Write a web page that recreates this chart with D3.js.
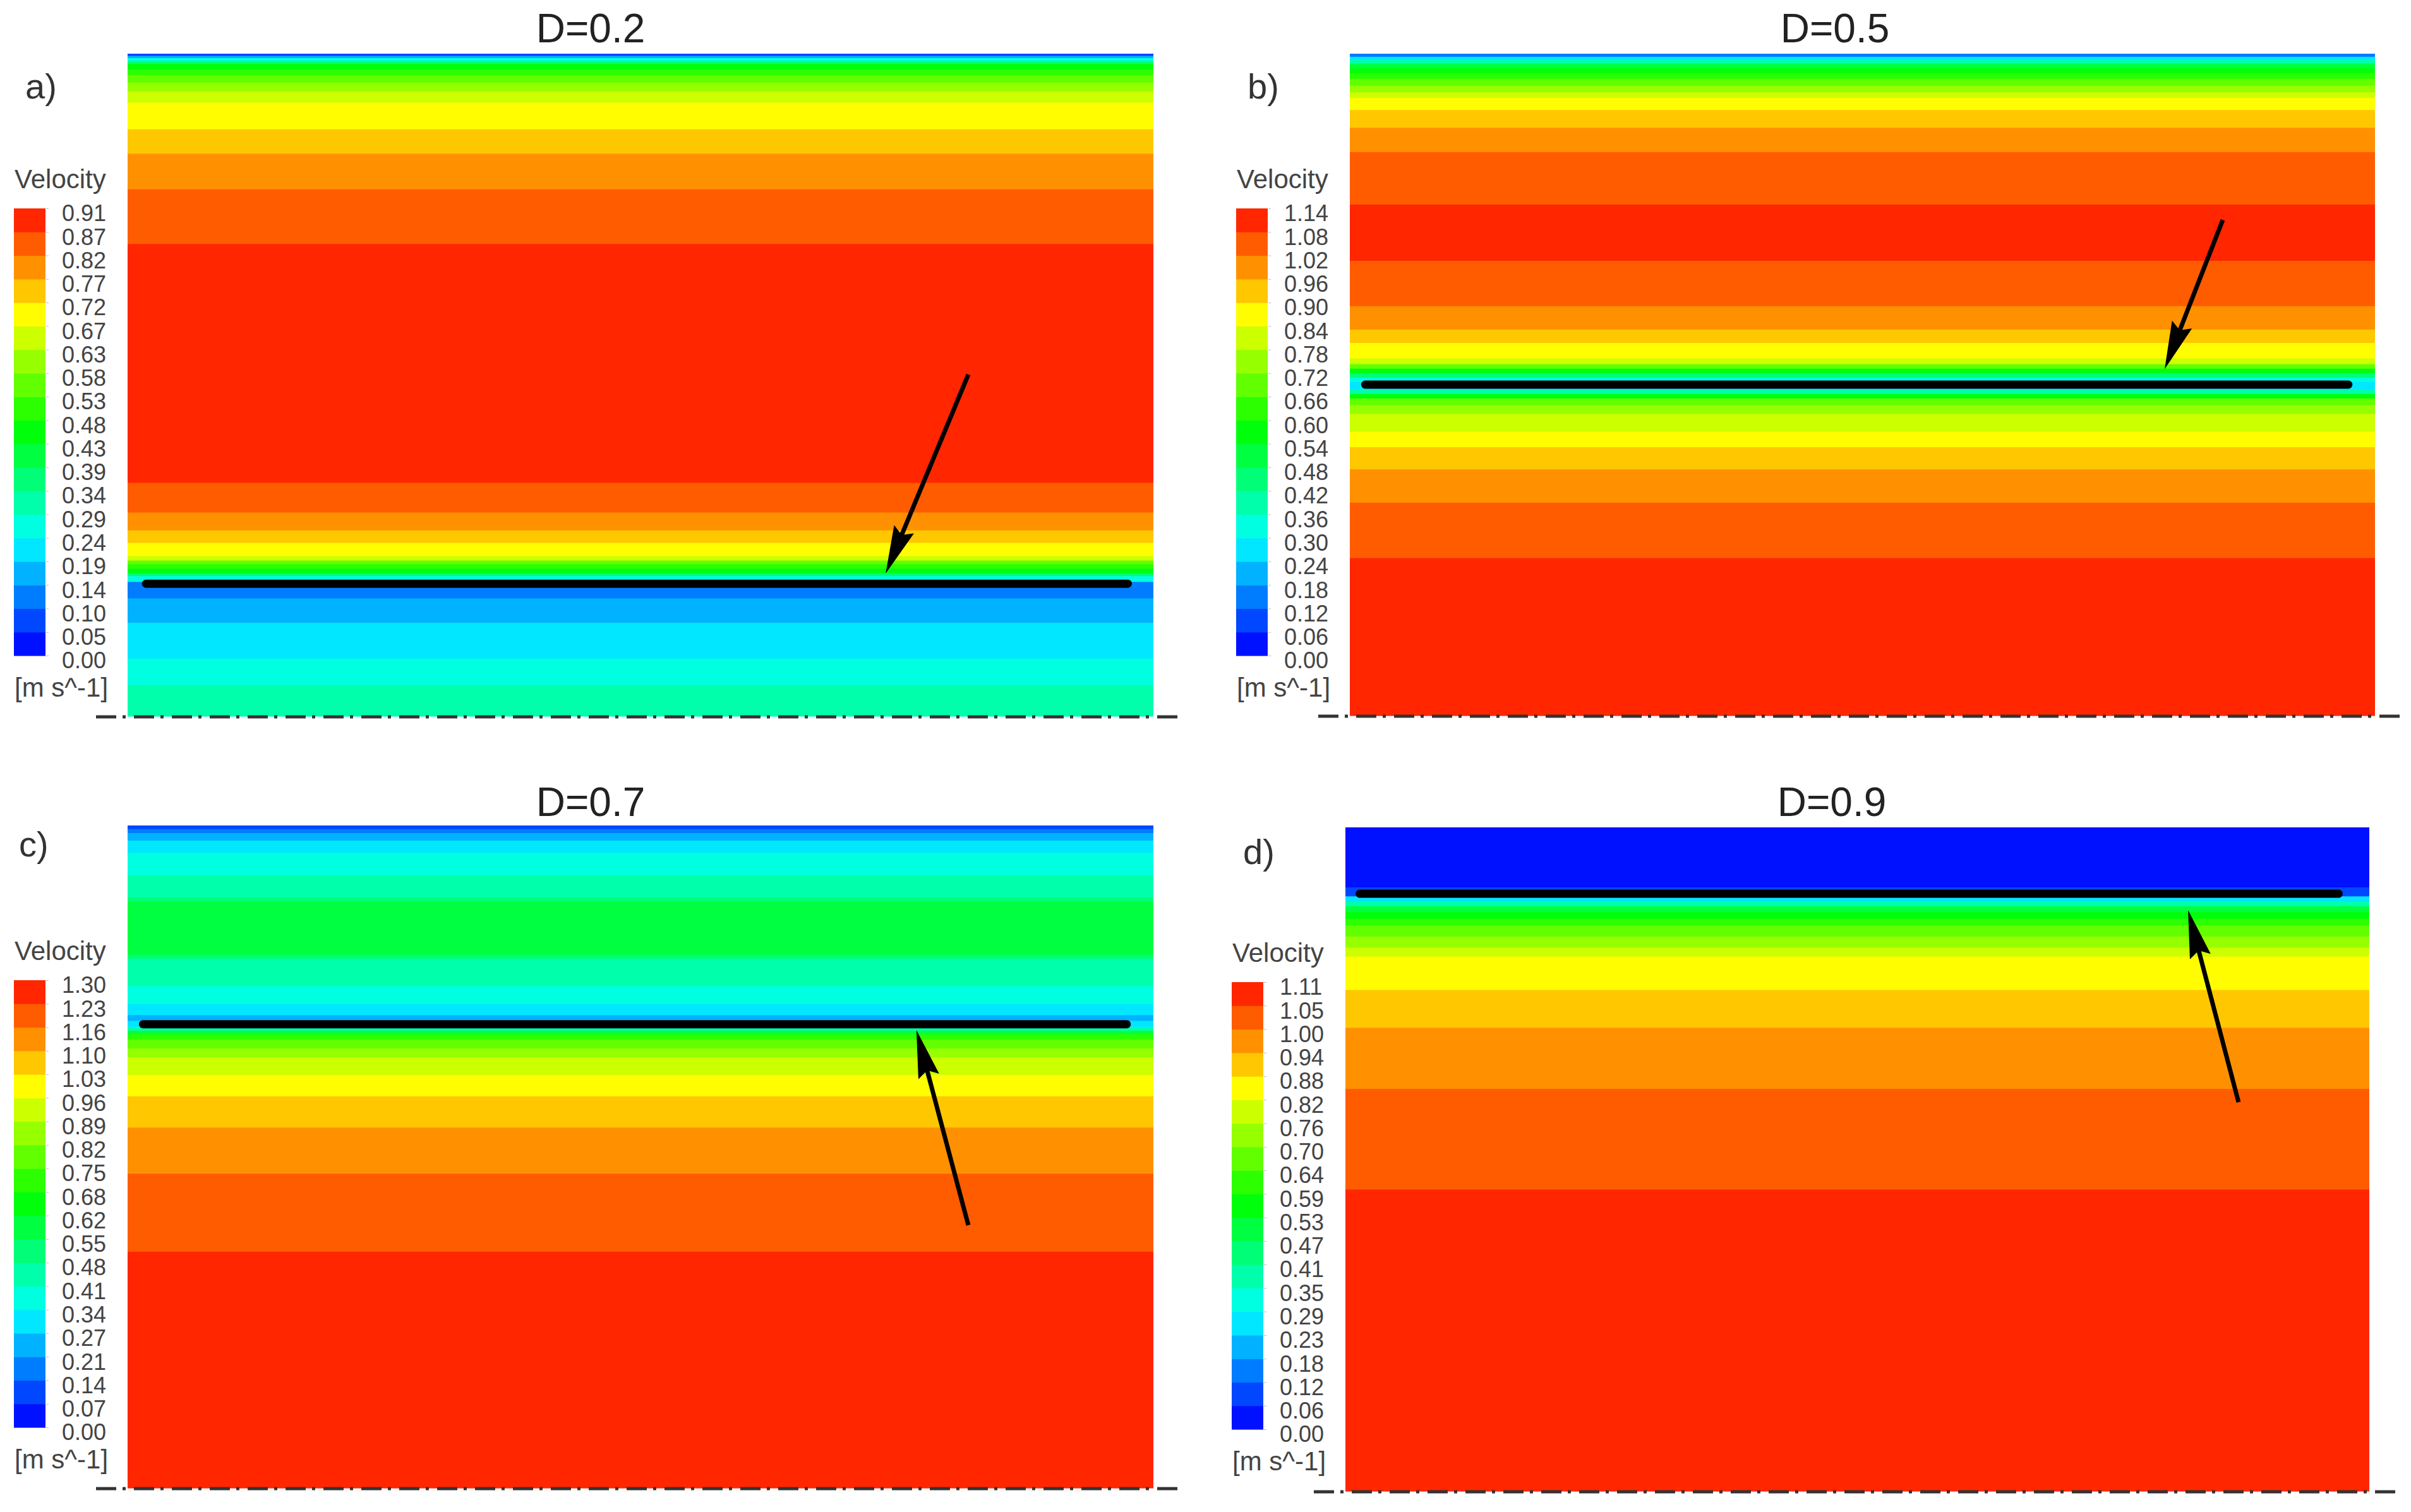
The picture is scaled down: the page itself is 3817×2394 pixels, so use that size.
<!DOCTYPE html>
<html>
<head>
<meta charset="utf-8">
<script src="https://cdn.jsdelivr.net/npm/d3@7"></script>
<style>
  body { margin: 0; background: #fff; }
  text { font-family: "Liberation Sans", Arial, sans-serif; }
</style>
</head>
<body>
<svg id="chart" width="3817" height="2394"></svg>
<script>
// panel titles and plate positions (plate sits at y = D)
var titles = ['D=0.2', 'D=0.5', 'D=0.7', 'D=0.9'];
var letters = ['a)', 'b)', 'c)', 'd)'];
var plateD = [0.2, 0.5, 0.7, 0.9];
var plateStart = [0.018, 0.015, 0.015, 0.014];
var plateEnd = [0.975, 0.974, 0.974, 0.970];

// legend tick labels, top to bottom
var labelsA = ['0.91','0.87','0.82','0.77','0.72','0.67','0.63','0.58','0.53','0.48','0.43','0.39','0.34','0.29','0.24','0.19','0.14','0.10','0.05','0.00'];
var labelsB = ['1.14','1.08','1.02','0.96','0.90','0.84','0.78','0.72','0.66','0.60','0.54','0.48','0.42','0.36','0.30','0.24','0.18','0.12','0.06','0.00'];
var labelsC = ['1.30','1.23','1.16','1.10','1.03','0.96','0.89','0.82','0.75','0.68','0.62','0.55','0.48','0.41','0.34','0.27','0.21','0.14','0.07','0.00'];
var labelsD = ['1.11','1.05','1.00','0.94','0.88','0.82','0.76','0.70','0.64','0.59','0.53','0.47','0.41','0.35','0.29','0.23','0.18','0.12','0.06','0.00'];

// contour band edges (height over the axis, wall = 1), top to bottom, and the colour level of each band
var edgesA = [1.000, 0.9966, 0.9933, 0.9893, 0.9846, 0.9765, 0.9678, 0.9564, 0.9430, 0.9262, 0.8859, 0.8490, 0.7953, 0.7128, 0.3523, 0.3074, 0.2805, 0.2617, 0.2416, 0.2349, 0.2295, 0.2228, 0.2161, 0.2114, 0.2027, 0.1779, 0.1409, 0.0872, 0.0470, 0];
var levelsA = [1, 3, 5, 7, 9, 10, 11, 12, 13, 14, 15, 16, 17, 18, 17, 16, 15, 14, 13, 11, 10, 9, 7, 5, 2, 3, 4, 5, 6];

var edgesB = [1.0, 0.9953, 0.9906, 0.9853, 0.9786, 0.9705, 0.9618, 0.9517, 0.9417, 0.9330, 0.9149, 0.8881, 0.8512, 0.7721, 0.6870, 0.6186, 0.5831, 0.5630, 0.5395, 0.5308, 0.5241, 0.5174, 0.5107, 0.5040, 0.4926, 0.4859, 0.4792, 0.4692, 0.4558, 0.4290, 0.4055, 0.3720, 0.3217, 0.2379, 0];
var levelsB = [2, 4, 6, 8, 9, 10, 11, 12, 13, 14, 15, 16, 17, 18, 17, 16, 15, 14, 13, 11, 9, 7, 5, 4, 6, 9, 11, 12, 13, 14, 15, 16, 17, 18];

var edgesC = [1, 0.9946, 0.9886, 0.9772, 0.9584, 0.9249, 0.8914, 0.8847, 0.8043, 0.7989, 0.7574, 0.7306, 0.7138, 0.7051, 0.6957, 0.6903, 0.6850, 0.6769, 0.6635, 0.6501, 0.6233, 0.5912, 0.5442, 0.4745, 0.3566, 0];
var levelsC = [1, 2, 3, 4, 5, 6, 7, 8, 7, 6, 5, 4, 3, 4, 6, 8, 10, 11, 12, 13, 14, 15, 16, 17, 18];

var edgesD = [1, 0.9094, 0.8960, 0.8879, 0.8812, 0.8725, 0.8624, 0.8523, 0.8356, 0.8188, 0.8054, 0.7550, 0.6980, 0.6060, 0.4544, 0];
var levelsD = [0, 1, 4, 6, 8, 9, 10, 11, 12, 13, 14, 15, 16, 17, 18];

// arrows: [x tail, y tail, x tip, y tip] in panel units
var arrowA = [0.8196, 0.5157, 0.7390, 0.2154];
var arrowB = [0.8515, 0.7488, 0.7948, 0.5234];
var arrowC = [0.8196, 0.3966, 0.7690, 0.6911];
var arrowD = [0.8723, 0.5860, 0.8230, 0.8753];

var panels = [
  {left: 202, right: 1826, top: 85, bottom: 1134, tx: 935, ty: 67, lx: 40, ly: 156,
   edges: edgesA, levels: levelsA, labels: labelsA, arrow: arrowA},
  {left: 2137, right: 3760, top: 85, bottom: 1133, tx: 2905, ty: 67, lx: 1975, ly: 156,
   edges: edgesB, levels: levelsB, labels: labelsB, arrow: arrowB},
  {left: 202, right: 1826, top: 1307, bottom: 2356, tx: 935, ty: 1292, lx: 30, ly: 1356,
   edges: edgesC, levels: levelsC, labels: labelsC, arrow: arrowC},
  {left: 2130, right: 3751, top: 1310, bottom: 2361, tx: 2900, ty: 1292, lx: 1968, ly: 1368,
   edges: edgesD, levels: levelsD, labels: labelsD, arrow: arrowD}
];

// CFX style rainbow, 19 levels, blue -> red
var hue = d3.scaleLinear().domain([0, 18]).range([236, 9]);
function levelColor(l) { return d3.hsl(hue(l), 1, 0.5).toString(); }

var svg = d3.select('#chart');

svg.append('defs').append('marker')
  .attr('id', 'head')
  .attr('markerUnits', 'userSpaceOnUse')
  .attr('viewBox', '0 -17 76 34')
  .attr('refX', 76).attr('refY', 0)
  .attr('markerWidth', 76).attr('markerHeight', 34)
  .attr('orient', 'auto')
  .append('path')
  .attr('d', 'M0,-17L76,0L0,17L10,0Z')
  .attr('fill', '#000');

panels.forEach(function (p, k) {
  var g = svg.append('g');
  var x = d3.scaleLinear().domain([0, 1]).range([p.left, p.right]);
  var y = d3.scaleLinear().domain([0, 1]).range([p.bottom, p.top]);

  // contour bands
  var bands = p.levels.map(function (l, i) { return {y0: p.edges[i], y1: p.edges[i + 1], level: l}; });
  g.selectAll('rect.band').data(bands).enter().append('rect')
    .attr('class', 'band')
    .attr('x', x(0))
    .attr('width', x(1) - x(0))
    .attr('y', function (d) { return y(d.y0); })
    .attr('height', function (d) { return y(d.y1) - y(d.y0) + 0.6; })
    .attr('fill', function (d) { return levelColor(d.level); });

  // plate
  g.append('line')
    .attr('x1', x(plateStart[k])).attr('x2', x(plateEnd[k]))
    .attr('y1', y(plateD[k])).attr('y2', y(plateD[k]))
    .attr('stroke', '#000').attr('stroke-width', 13).attr('stroke-linecap', 'round');

  // symmetry axis
  g.append('line')
    .attr('x1', x(0) - 50).attr('x2', x(1) + 45)
    .attr('y1', y(0) + 1).attr('y2', y(0) + 1)
    .attr('stroke', '#333').attr('stroke-width', 5)
    .attr('stroke-dasharray', '32,10,5,13');

  // arrow
  var a = p.arrow;
  var x0 = x(a[0]), y0 = y(a[1]), x1 = x(a[2]), y1 = y(a[3]);
  var len = Math.hypot(x1 - x0, y1 - y0);
  var cut = 40 / len;
  g.append('line')
    .attr('x1', x0).attr('y1', y0)
    .attr('x2', x1 - (x1 - x0) * cut).attr('y2', y1 - (y1 - y0) * cut)
    .attr('stroke', '#000').attr('stroke-width', 7);
  g.append('path')
    .attr('d', 'M' + (x1 - (x1 - x0) * cut) + ',' + (y1 - (y1 - y0) * cut) + 'L' + x1 + ',' + y1)
    .attr('stroke', 'none').attr('fill', 'none')
    .attr('marker-end', 'url(#head)');

  // titles
  g.append('text').attr('x', p.tx).attr('y', p.ty)
    .attr('text-anchor', 'middle').attr('font-size', 64).attr('fill', '#222')
    .text(titles[k]);
  g.append('text').attr('x', p.lx).attr('y', p.ly)
    .attr('font-size', 56).attr('fill', '#333')
    .text(letters[k]);

  // legend
  var barLeft = p.left - 180, barTop = p.top + 245, barH = 708;
  var ly = d3.scaleLinear().domain([0, 19]).range([barTop + barH, barTop]);
  var leg = g.append('g');
  leg.selectAll('rect').data(d3.range(19)).enter().append('rect')
    .attr('x', barLeft).attr('width', 50)
    .attr('y', function (i) { return ly(i + 1); })
    .attr('height', function (i) { return ly(i) - ly(i + 1) + 0.6; })
    .attr('fill', function (i) { return levelColor(i); });

  var axis = d3.axisRight(ly)
    .tickValues(d3.range(20))
    .tickFormat(function (i) { return p.labels[19 - i]; })
    .tickSize(4).tickPadding(21);
  var ax = leg.append('g').attr('transform', 'translate(' + (barLeft + 51) + ',0)').call(axis);
  ax.select('.domain').remove();
  ax.selectAll('line').attr('stroke', '#bbb');
  ax.selectAll('text')
    .attr('font-size', 36).attr('fill', '#444')
    .attr('font-family', '"Liberation Sans", Arial, sans-serif')
    .attr('dy', '0.55em');

  leg.append('text').attr('x', barLeft + 1).attr('y', p.top + 213)
    .attr('font-size', 42).attr('fill', '#444').text('Velocity');
  leg.append('text').attr('x', barLeft + 1).attr('y', p.top + 1018)
    .attr('font-size', 42).attr('fill', '#444').text('[m s^-1]');
});
</script>
</body>
</html>
